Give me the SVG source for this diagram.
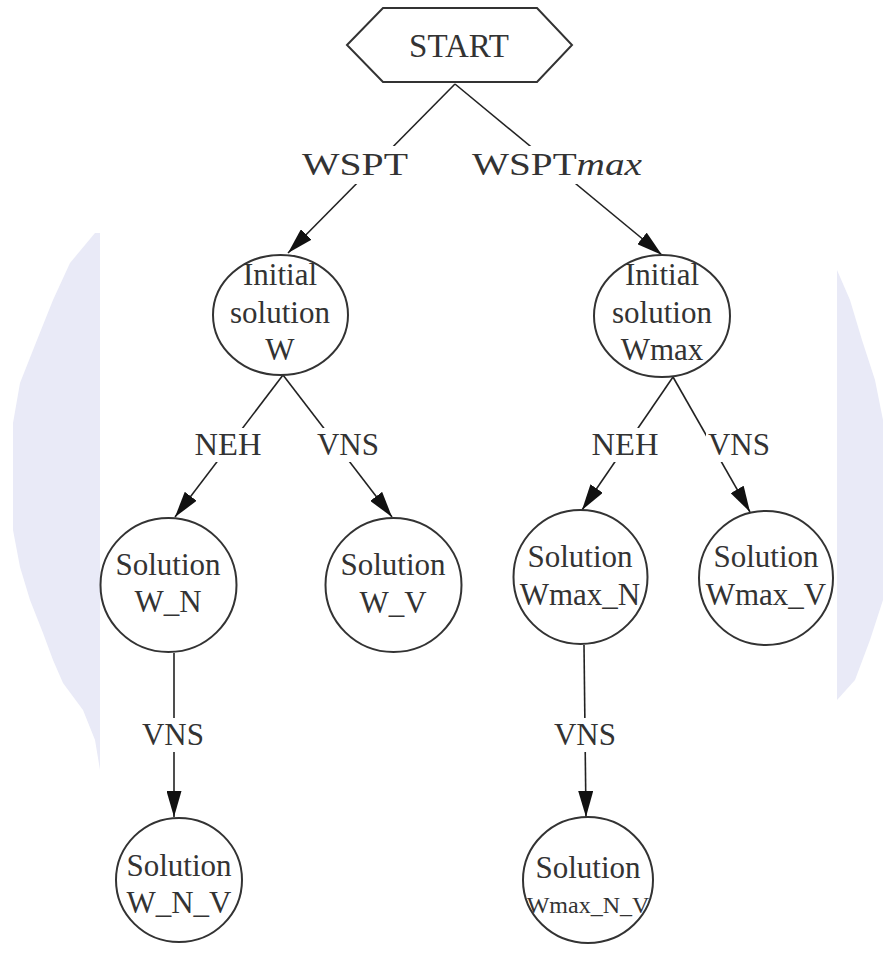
<svg xmlns="http://www.w3.org/2000/svg" width="883" height="953" viewBox="0 0 883 953">
<style>
.n{fill:#fff;stroke:#333;stroke-width:2}
.t{font-family:"Liberation Serif","Times New Roman",serif;font-size:31px;fill:#333;text-anchor:middle}
.e{stroke:#222;stroke-width:1.6;fill:none}
.lb{fill:#fff}
.wm{fill:#e9eaf7}
</style>
<defs>
<marker id="ah" viewBox="0 0 26 15" refX="26" refY="7.5" markerWidth="26" markerHeight="15" markerUnits="userSpaceOnUse" orient="auto">
<path d="M0,0 L26,7.5 L0,15 Z" fill="#111"/>
</marker>
</defs>
<rect width="883" height="953" fill="#fff"/>
<g id="watermark">
<polygon class="wm" points="95,233 70,263 53,300 37,340 20,383 13,423 13,530 20,567 30,600 43,633 53,660 63,683 83,710 95,740 100,770 100,233"/>
<polygon class="wm" points="837,270 850,300 862,340 875,380 883,420 883,600 870,640 855,680 837,700"/>
</g>
<g id="connectors">
<line class="e" x1="455" y1="84" x2="288" y2="253" marker-end="url(#ah)"/>
<line class="e" x1="455" y1="84" x2="662" y2="255" marker-end="url(#ah)"/>
<line class="e" x1="283" y1="375" x2="175" y2="517" marker-end="url(#ah)"/>
<line class="e" x1="283" y1="375" x2="392" y2="517" marker-end="url(#ah)"/>
<line class="e" x1="673" y1="377" x2="582" y2="510" marker-end="url(#ah)"/>
<line class="e" x1="673" y1="377" x2="750" y2="512" marker-end="url(#ah)"/>
<line class="e" x1="174" y1="653" x2="174" y2="817" marker-end="url(#ah)"/>
<line class="e" x1="584" y1="645" x2="586" y2="817" marker-end="url(#ah)"/>
<rect class="lb" x="298" y="146" width="114" height="38"/>
<text class="t" x="355" y="175" textLength="106" lengthAdjust="spacingAndGlyphs">WSPT</text>
<rect class="lb" x="468" y="146" width="178" height="38"/>
<text class="t" x="557" y="175" textLength="170" lengthAdjust="spacingAndGlyphs">WSPT<tspan font-style="italic">max</tspan></text>
<rect class="lb" x="191" y="428" width="76" height="34"/>
<text class="t" x="228" y="455" textLength="67" lengthAdjust="spacingAndGlyphs">NEH</text>
<rect class="lb" x="315" y="428" width="66" height="34"/>
<text class="t" x="348" y="455">VNS</text>
<rect class="lb" x="588" y="428" width="76" height="34"/>
<text class="t" x="625" y="455" textLength="67" lengthAdjust="spacingAndGlyphs">NEH</text>
<rect class="lb" x="706" y="428" width="66" height="34"/>
<text class="t" x="739" y="455">VNS</text>
<rect class="lb" x="138" y="718" width="70" height="34"/>
<text class="t" x="173" y="745">VNS</text>
<rect class="lb" x="550" y="718" width="70" height="34"/>
<text class="t" x="585" y="745">VNS</text>
</g>
<g id="start">
<polygon class="n" points="347,45 383,8 537,8 572,45 537,82 383,82"/>
<text class="t" x="459" y="57" style="font-size:33px">START</text>
</g>
<g id="init-w">
<ellipse class="n" cx="280.5" cy="315" rx="67.5" ry="60"/>
<text class="t" x="280" y="285">Initial</text>
<text class="t" x="280" y="323">solution</text>
<text class="t" x="280" y="360">W</text>
</g>
<g id="init-wmax">
<ellipse class="n" cx="662" cy="316" rx="68" ry="61"/>
<text class="t" x="662" y="285">Initial</text>
<text class="t" x="662" y="323">solution</text>
<text class="t" x="662" y="360">Wmax</text>
</g>
<g id="sol-w-n">
<ellipse class="n" cx="168.5" cy="585" rx="68" ry="67"/>
<text class="t" x="168" y="575">Solution</text>
<text class="t" x="168" y="612">W_N</text>
</g>
<g id="sol-w-v">
<ellipse class="n" cx="393.5" cy="585" rx="68" ry="67"/>
<text class="t" x="393" y="575">Solution</text>
<text class="t" x="393" y="613">W_V</text>
</g>
<g id="sol-wmax-n">
<ellipse class="n" cx="580.5" cy="577" rx="67" ry="67"/>
<text class="t" x="580" y="567">Solution</text>
<text class="t" x="580" y="605">Wmax_N</text>
</g>
<g id="sol-wmax-v">
<ellipse class="n" cx="766" cy="578" rx="67" ry="67"/>
<text class="t" x="766" y="567">Solution</text>
<text class="t" x="766" y="605">Wmax_V</text>
</g>
<g id="sol-w-n-v">
<ellipse class="n" cx="179" cy="880" rx="63" ry="62"/>
<text class="t" x="179" y="876">Solution</text>
<text class="t" x="179" y="913">W_N_V</text>
</g>
<g id="sol-wmax-n-v">
<ellipse class="n" cx="588" cy="880" rx="65" ry="63"/>
<text class="t" x="588" y="878">Solution</text>
<text class="t" x="588" y="913" style="font-size:24px">Wmax_N_V</text>
</g>
</svg>
